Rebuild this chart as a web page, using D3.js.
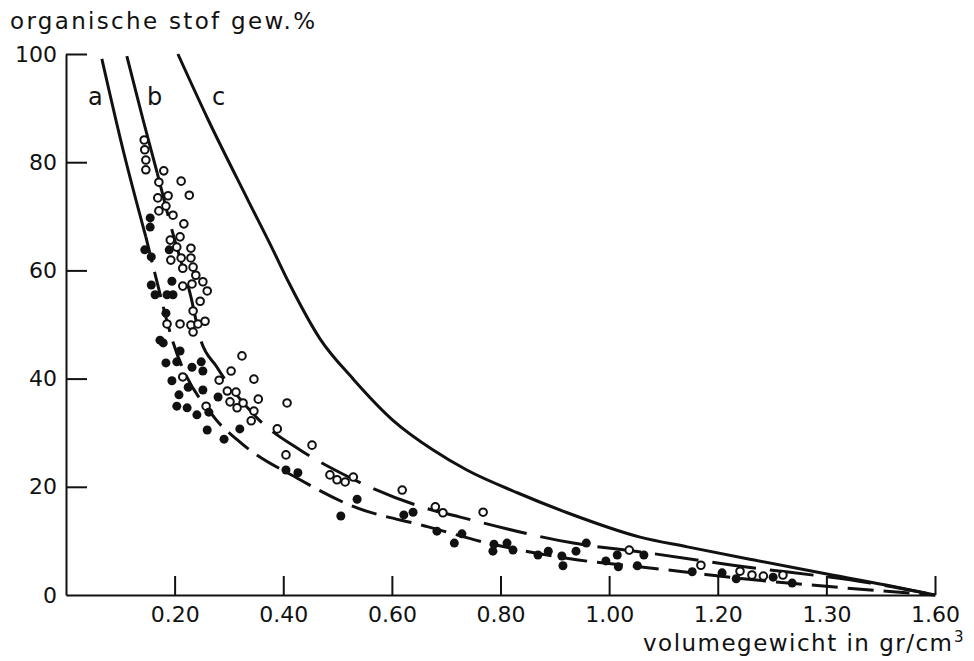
<!DOCTYPE html>
<html lang="nl">
<head>
<meta charset="UTF-8" />
<title>organische stof - volumegewicht</title>
<script src="https://cdnjs.cloudflare.com/ajax/libs/d3/7.8.5/d3.min.js"></script>
<style>
  body { margin: 0; background: #fff; }
  svg text { font-family: "DejaVu Sans", sans-serif; fill: #111; }
</style>
</head>
<body>
<div id="chart"></div>
<script>
// ticks as printed (the 1.40 tick is printed "1.30" in the original)
var xTicks = [0.2, 0.4, 0.6, 0.8, 1.0, 1.2, 1.4, 1.6];
var xTickLabels = ["0.20", "0.40", "0.60", "0.80", "1.00", "1.20", "1.30", "1.60"];
var yTicks = [0, 20, 40, 60, 80, 100];

// curves [volumegewicht, organische stof %]
var curveA = [[0.066, 99.1], [0.105, 82.3], [0.147, 66.2], [0.168, 57.7], [0.192, 48.4],
  [0.274, 32.7], [0.315, 28.7], [0.431, 21.3], [0.523, 16.6], [0.667, 12.6], [0.768, 9.8],
  [0.928, 6.7], [1.075, 5.0], [1.136, 4.3], [1.247, 3.0], [1.365, 1.9], [1.60, 0]];
var curveB = [[0.112, 99.6], [0.142, 87.8], [0.168, 78.0], [0.195, 67.5], [0.230, 55.1],
  [0.247, 47.5], [0.278, 42.1], [0.352, 32.7], [0.431, 26.8], [0.505, 22.6], [0.661, 16.1],
  [0.726, 14.4], [0.934, 9.6], [1.070, 7.8], [1.228, 5.5], [1.481, 2.2], [1.60, 0]];
var curveC = [[0.206, 100], [0.262, 87.8], [0.335, 73.0], [0.381, 63.8], [0.410, 57.8],
  [0.468, 47.3], [0.529, 39.9], [0.602, 32.3], [0.676, 26.8], [0.738, 23.1], [0.831, 18.9],
  [0.923, 15.2], [1.057, 10.7], [1.144, 8.9], [1.265, 6.5], [1.389, 4.1], [1.512, 1.8], [1.60, 0]];
// x value where the solid top part of a and b turns into dashes
var aSolidTo = 0.147;
var bSolidTo = 0.168;

var openPoints = [[0.144, 84.1], [0.145, 82.3], [0.147, 80.4], [0.147, 78.6], [0.180, 78.4],
  [0.212, 76.5], [0.171, 76.3], [0.227, 73.9], [0.169, 73.4], [0.188, 73.8], [0.184, 71.9],
  [0.171, 71.0], [0.197, 70.2], [0.217, 68.6], [0.210, 66.2], [0.192, 65.6], [0.230, 64.1],
  [0.204, 64.3], [0.193, 61.9], [0.212, 62.3], [0.230, 62.3], [0.215, 60.4], [0.234, 60.6],
  [0.239, 59.1], [0.232, 57.5], [0.215, 57.1], [0.252, 57.9], [0.260, 56.2], [0.247, 54.3],
  [0.234, 52.5], [0.186, 50.1], [0.210, 50.1], [0.230, 49.9], [0.243, 50.1], [0.256, 50.6],
  [0.234, 48.6], [0.324, 44.2], [0.346, 39.9], [0.304, 41.4], [0.282, 39.7], [0.297, 37.7],
  [0.313, 37.5], [0.302, 35.7], [0.315, 34.6], [0.326, 35.5], [0.354, 36.2], [0.346, 34.0],
  [0.341, 32.2], [0.389, 30.7], [0.407, 35.5], [0.215, 40.3], [0.258, 34.9], [0.453, 27.7],
  [0.405, 25.9], [0.486, 22.2], [0.499, 21.3], [0.514, 20.9], [0.529, 21.8], [0.619, 19.4],
  [0.680, 16.3], [0.694, 15.2], [0.768, 15.3], [1.037, 8.3], [1.169, 5.5], [1.241, 4.4],
  [1.263, 3.7], [1.284, 3.5], [1.320, 3.7]];

var filledPoints = [[0.155, 69.7], [0.155, 68.0], [0.157, 62.5], [0.190, 63.8], [0.195, 58.0],
  [0.164, 55.5], [0.186, 55.5], [0.197, 55.5], [0.184, 52.1], [0.157, 57.3], [0.145, 63.8],
  [0.173, 47.1], [0.179, 46.6], [0.210, 45.1], [0.184, 42.9], [0.204, 43.1], [0.232, 42.1],
  [0.249, 43.1], [0.252, 41.4], [0.195, 39.6], [0.225, 38.4], [0.252, 37.9], [0.208, 37.0],
  [0.204, 34.9], [0.223, 34.6], [0.241, 33.3], [0.263, 33.8], [0.260, 30.5], [0.320, 30.7],
  [0.280, 36.6], [0.291, 28.8], [0.405, 23.1], [0.427, 22.6], [0.506, 14.6], [0.536, 17.7],
  [0.622, 14.8], [0.639, 15.3], [0.683, 11.8], [0.729, 11.3], [0.715, 9.6], [0.788, 9.4],
  [0.786, 8.1], [0.812, 9.6], [0.823, 8.3], [0.869, 7.4], [0.888, 8.1], [0.913, 7.2],
  [0.915, 5.4], [0.939, 8.1], [0.958, 9.6], [0.994, 6.3], [1.015, 7.4], [1.017, 5.2],
  [1.052, 5.4], [1.064, 7.4], [1.153, 4.3], [1.208, 4.1], [1.234, 3.0], [1.302, 3.3],
  [1.337, 2.2]];

var width = 974, height = 661;
var ink = "#111";

var svg = d3.select("#chart").append("svg")
  .attr("width", width)
  .attr("height", height);

var x = d3.scaleLinear().domain([0, 1.6]).range([66, 935]);
var y = d3.scaleLinear().domain([0, 100]).range([595, 54]);

// axes, ticks pointing into the plot
var xAxis = svg.append("g")
  .attr("transform", "translate(0," + y(0) + ")")
  .call(d3.axisBottom(x).tickValues(xTicks).tickSize(-19).tickSizeOuter(0).tickPadding(11)
    .tickFormat(function (d, i) { return xTickLabels[i]; }));
var yAxis = svg.append("g")
  .attr("transform", "translate(" + x(0) + ",0)")
  .call(d3.axisLeft(y).tickValues(yTicks).tickSize(-21).tickSizeOuter(0).tickPadding(9)
    .tickFormat(d3.format("d")));

[xAxis, yAxis].forEach(function (g) {
  g.attr("font-family", null).attr("font-size", null);
  g.select(".domain").attr("stroke", ink).attr("stroke-width", 2);
  g.selectAll(".tick line").attr("stroke", ink).attr("stroke-width", 2);
  g.selectAll(".tick text").style("font-size", "22px").attr("fill", ink);
});
yAxis.selectAll(".tick").filter(function (d) { return d === 0; }).select("line").remove();

var line = d3.line()
  .x(function (d) { return x(d[0]); })
  .y(function (d) { return y(d[1]); })
  .curve(d3.curveMonotoneX);

function drawCurve(data, solidTo, dash) {
  var top = data.filter(function (d) { return d[0] <= solidTo; });
  var rest = data.filter(function (d) { return d[0] >= solidTo; });
  svg.append("path").datum(top)
    .attr("fill", "none").attr("stroke", ink).attr("stroke-width", 3)
    .attr("d", line);
  svg.append("path").datum(rest)
    .attr("fill", "none").attr("stroke", ink).attr("stroke-width", 3)
    .attr("stroke-dasharray", dash)
    .attr("d", line);
}

drawCurve(curveA, aSolidTo, "26,10");
drawCurve(curveB, bSolidTo, "44,14");

svg.append("path").datum(curveC)
  .attr("fill", "none").attr("stroke", ink).attr("stroke-width", 3)
  .attr("d", line);

// points
svg.append("g").selectAll("circle")
  .data(openPoints)
  .join("circle")
  .attr("cx", function (d) { return x(d[0]); })
  .attr("cy", function (d) { return y(d[1]); })
  .attr("r", 3.8)
  .attr("fill", "#fff")
  .attr("stroke", ink)
  .attr("stroke-width", 2);

svg.append("g").selectAll("circle")
  .data(filledPoints)
  .join("circle")
  .attr("cx", function (d) { return x(d[0]); })
  .attr("cy", function (d) { return y(d[1]); })
  .attr("r", 4.5)
  .attr("fill", ink);

// curve names
[["a", 88], ["b", 147], ["c", 212]].forEach(function (l) {
  svg.append("text")
    .attr("x", l[1])
    .attr("y", 105)
    .style("font-size", "24px")
    .text(l[0]);
});

// titles
svg.append("text")
  .attr("x", 10)
  .attr("y", 29)
  .attr("textLength", 305)
  .attr("lengthAdjust", "spacing")
  .style("font-size", "23px")
  .text("organische stof gew.%");

svg.append("text")
  .attr("x", 643)
  .attr("y", 651)
  .attr("textLength", 309)
  .attr("lengthAdjust", "spacing")
  .style("font-size", "23px")
  .text("volumegewicht in gr/cm");
svg.append("text")
  .attr("x", 954)
  .attr("y", 642)
  .style("font-size", "15px")
  .text("3");
</script>
</body>
</html>
